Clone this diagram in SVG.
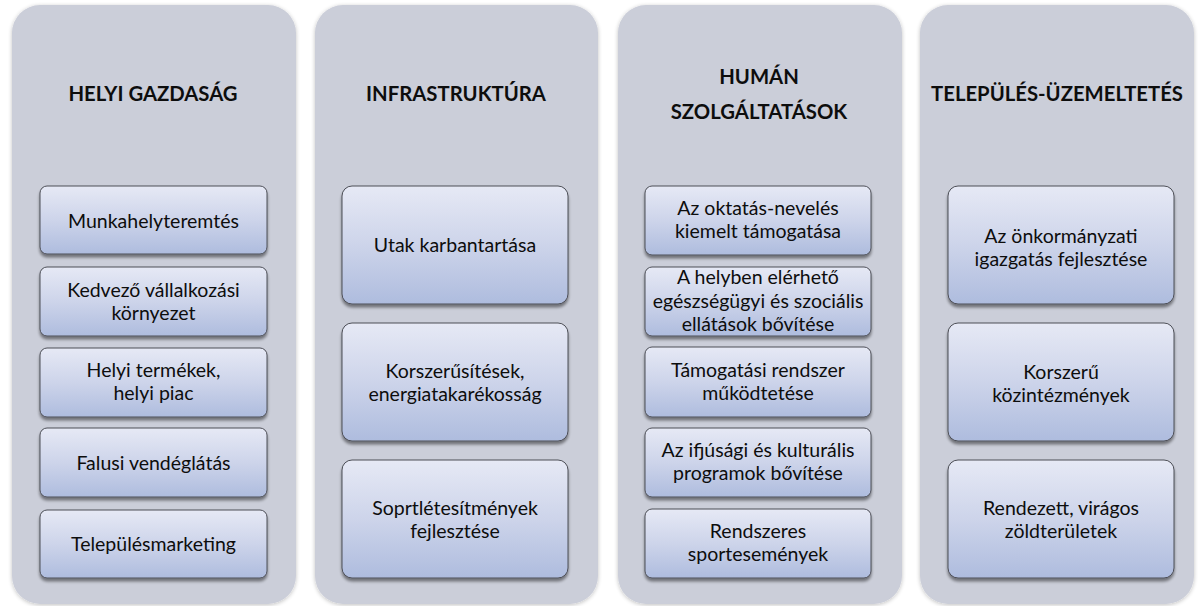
<svg xmlns="http://www.w3.org/2000/svg" width="1198" height="606" viewBox="0 0 1198 606">
<defs>
  <linearGradient id="nodeGrad" x1="0" y1="0" x2="0" y2="1">
    <stop offset="0" stop-color="#e6e9f5"/>
    <stop offset="0.5" stop-color="#cdd4ea"/>
    <stop offset="1" stop-color="#aebcde"/>
  </linearGradient>
  <filter id="panelShadow" x="-5%" y="-5%" width="110%" height="110%">
    <feGaussianBlur in="SourceAlpha" stdDeviation="2"/>
    <feOffset dx="0" dy="1" result="b"/>
    <feComponentTransfer><feFuncA type="linear" slope="0.25"/></feComponentTransfer>
    <feMerge><feMergeNode/><feMergeNode in="SourceGraphic"/></feMerge>
  </filter>
  <filter id="nodeShadow" x="-10%" y="-10%" width="120%" height="130%">
    <feGaussianBlur in="SourceAlpha" stdDeviation="1.8"/>
    <feOffset dx="0" dy="3" result="b"/>
    <feComponentTransfer><feFuncA type="linear" slope="0.45"/></feComponentTransfer>
    <feMerge><feMergeNode/><feMergeNode in="SourceGraphic"/></feMerge>
  </filter>
</defs>
<style>
  .panel { fill: #cbced9; filter: url(#panelShadow); }
  .node rect { fill: url(#nodeGrad); stroke: #4d4f57; stroke-width: 1; filter: url(#nodeShadow); }
  .title { font-family: Lato, "Liberation Sans", sans-serif; font-weight: bold; font-size: 20.3px; fill: #0d0d0d; text-anchor: middle; }
  .lbl { font-family: Lato, "Liberation Sans", sans-serif; font-size: 19.5px; fill: #0d0d0d; text-anchor: middle; }
</style>
<rect width="1198" height="606" fill="#ffffff"/>

<g id="col-helyi">
  <rect class="panel" x="12" y="5" width="284" height="599" rx="28"/>
  <text class="title" x="153" y="101">HELYI GAZDASÁG</text>
</g>
<g id="col-infra">
  <rect class="panel" x="315" y="5" width="283" height="599" rx="28"/>
  <text class="title" x="456" y="101">INFRASTRUKTÚRA</text>
</g>
<g id="col-human">
  <rect class="panel" x="618" y="5" width="284" height="599" rx="28"/>
  <text class="title" x="759" y="84">HUMÁN</text>
  <text class="title" x="759" y="119">SZOLGÁLTATÁSOK</text>
</g>
<g id="col-telepules">
  <rect class="panel" x="920" y="5" width="274" height="599" rx="28"/>
  <text class="title" x="1057" y="101">TELEPÜLÉS-ÜZEMELTETÉS</text>
</g>

<g id="connectors"/>

<!-- Column 1 -->
<g id="n-munkahely" class="node">
  <rect x="40" y="186" width="227" height="68" rx="7"/>
  <text class="lbl" x="153.5" y="228">Munkahelyteremtés</text>
</g>
<g id="n-kedvezo" class="node">
  <rect x="40" y="267" width="227" height="69" rx="7"/>
  <text class="lbl" x="153.5" y="297">Kedvező vállalkozási</text>
  <text class="lbl" x="153.5" y="320">környezet</text>
</g>
<g id="n-helyitermek" class="node">
  <rect x="40" y="348" width="227" height="69" rx="7"/>
  <text class="lbl" x="153.5" y="377">Helyi termékek,</text>
  <text class="lbl" x="153.5" y="400">helyi piac</text>
</g>
<g id="n-falusi" class="node">
  <rect x="40" y="428" width="227" height="69" rx="7"/>
  <text class="lbl" x="153.5" y="470">Falusi vendéglátás</text>
</g>
<g id="n-telepulesmarketing" class="node">
  <rect x="40" y="510" width="227" height="68" rx="7"/>
  <text class="lbl" x="153.5" y="551">Településmarketing</text>
</g>

<!-- Column 2 -->
<g id="n-utak" class="node">
  <rect x="342" y="186" width="226" height="118" rx="10"/>
  <text class="lbl" x="455" y="252">Utak karbantartása</text>
</g>
<g id="n-korszerusitesek" class="node">
  <rect x="342" y="323" width="226" height="118" rx="10"/>
  <text class="lbl" x="455" y="378">Korszerűsítések,</text>
  <text class="lbl" x="455" y="401">energiatakarékosság</text>
</g>
<g id="n-sport" class="node">
  <rect x="342" y="460" width="226" height="118" rx="10"/>
  <text class="lbl" x="455" y="515">Soprtlétesítmények</text>
  <text class="lbl" x="455" y="538">fejlesztése</text>
</g>

<!-- Column 3 -->
<g id="n-oktatas" class="node">
  <rect x="645" y="186" width="226" height="69" rx="7"/>
  <text class="lbl" x="758" y="215">Az oktatás-nevelés</text>
  <text class="lbl" x="758" y="238">kiemelt támogatása</text>
</g>
<g id="n-egeszseg" class="node">
  <rect x="645" y="267" width="226" height="69" rx="7"/>
  <text class="lbl" x="758" y="284">A helyben elérhető</text>
  <text class="lbl" x="758" y="308">egészségügyi és szociális</text>
  <text class="lbl" x="758" y="331">ellátások bővítése</text>
</g>
<g id="n-tamogatasi" class="node">
  <rect x="645" y="347" width="226" height="70" rx="7"/>
  <text class="lbl" x="758" y="377">Támogatási rendszer</text>
  <text class="lbl" x="758" y="400">működtetése</text>
</g>
<g id="n-ifjusagi" class="node">
  <rect x="645" y="428" width="226" height="69" rx="7"/>
  <text class="lbl" x="758" y="457">Az ifjúsági és kulturális</text>
  <text class="lbl" x="758" y="480">programok bővítése</text>
</g>
<g id="n-sportesemenyek" class="node">
  <rect x="645" y="509" width="226" height="69" rx="7"/>
  <text class="lbl" x="758" y="538">Rendszeres</text>
  <text class="lbl" x="758" y="561">sportesemények</text>
</g>

<!-- Column 4 -->
<g id="n-onkormanyzati" class="node">
  <rect x="948" y="186" width="226" height="118" rx="10"/>
  <text class="lbl" x="1061" y="243">Az önkormányzati</text>
  <text class="lbl" x="1061" y="266">igazgatás fejlesztése</text>
</g>
<g id="n-kozintezmenyek" class="node">
  <rect x="948" y="323" width="226" height="118" rx="10"/>
  <text class="lbl" x="1061" y="379">Korszerű</text>
  <text class="lbl" x="1061" y="402">közintézmények</text>
</g>
<g id="n-zoldteruletek" class="node">
  <rect x="948" y="460" width="226" height="118" rx="10"/>
  <text class="lbl" x="1061" y="515">Rendezett, virágos</text>
  <text class="lbl" x="1061" y="538">zöldterületek</text>
</g>
</svg>
